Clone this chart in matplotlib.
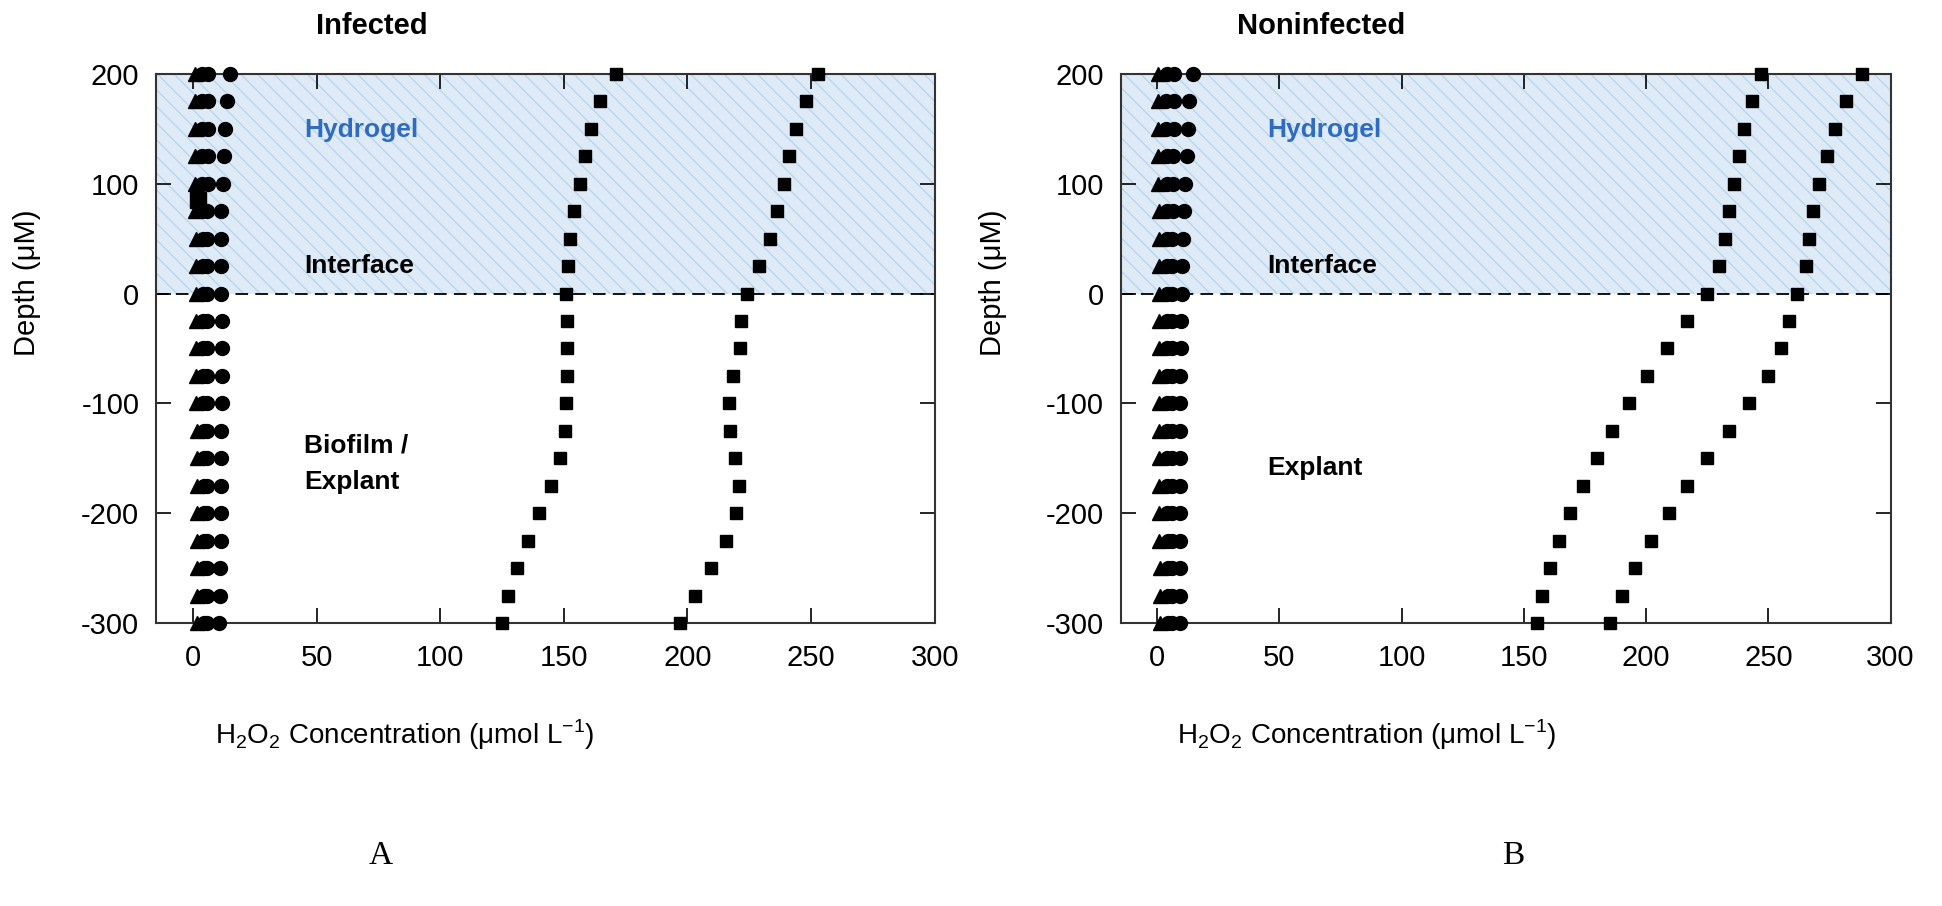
import matplotlib
matplotlib.use("Agg")
import matplotlib.pyplot as plt

plt.rcParams.update({"font.family": ["Liberation Sans", "DejaVu Sans"],
                     "mathtext.fontset": "custom",
                     "mathtext.rm": "Liberation Sans",
                     "axes.unicode_minus": False,
                     "hatch.linewidth": 0.9,
                     "hatch.color": "#b3d4f0"})

depth = [200, 175, 150, 125, 100, 75, 50, 25, 0, -25, -50, -75, -100,
         -125, -150, -175, -200, -225, -250, -275, -300]

# --- Infected ---
inf_low = [170.9, 164.6, 161.1, 158.4, 156.7, 154.3, 152.4, 151.6, 150.9,
           151.2, 151.2, 151.2, 150.9, 150.5, 148.5, 144.9, 139.9, 135.4,
           131.0, 127.6, 124.9]
inf_high = [252.7, 248.0, 244.0, 240.9, 238.9, 236.2, 233.3, 229.1, 223.9,
            221.7, 221.2, 218.5, 216.8, 217.4, 219.4, 220.9, 219.6, 215.4,
            209.5, 203.0, 197.1]
inf_tri = [0.8, 0.8, 0.9, 0.9, 1.0, 1.0, 1.1, 1.1, 1.2, 1.3, 1.3, 1.4, 1.4,
           1.5, 1.5, 1.6, 1.6, 1.6, 1.7, 1.7, 1.8]
inf_c1 = [3.5, 3.6, 3.6, 3.7, 3.8, 3.8, 3.9, 4.0, 4.0, 4.1, 4.1, 4.2, 4.2,
          4.3, 4.3, 4.3, 4.4, 4.4, 4.4, 4.5, 4.5]
inf_c2 = [6.2, 6.0, 6.0, 5.9, 5.9, 5.8, 5.8, 5.8, 5.8, 5.8, 5.8, 5.8, 5.8,
          5.8, 5.8, 5.8, 5.7, 5.7, 5.7, 5.6, 5.6]
inf_c3 = [15.0, 13.6, 13.0, 12.5, 12.0, 11.4, 11.3, 11.3, 11.5, 11.6, 11.6,
          11.6, 11.6, 11.5, 11.5, 11.4, 11.3, 11.2, 11.0, 10.8, 10.5]
inf_sq_x = [2.0]
inf_sq_y = [85]

# --- Noninfected ---
non_low = [247.2, 243.3, 240.1, 238.1, 235.8, 233.8, 232.2, 229.9, 224.8,
           216.9, 208.6, 200.4, 193.2, 186.2, 179.9, 174.0, 168.9, 164.5,
           160.7, 157.6, 155.4]
non_high = [288.5, 281.8, 277.3, 273.9, 270.6, 268.2, 266.8, 265.4, 261.8,
            258.6, 255.2, 249.7, 242.0, 233.8, 225.1, 216.9, 209.2, 202.1,
            195.6, 190.1, 185.3]
non_tri = [0.5, 0.2, 0.2, 0.4, 0.5, 0.6, 0.6, 0.6, 0.6, 0.7, 0.7, 0.7, 0.8,
           0.8, 0.8, 0.9, 0.9, 0.9, 1.0, 1.0, 1.0]
non_c1 = [4.0, 3.8, 3.8, 3.9, 4.0, 4.0, 4.0, 4.0, 4.0, 4.1, 4.1, 4.1, 4.1,
          4.2, 4.2, 4.2, 4.2, 4.3, 4.3, 4.3, 4.3]
non_c2 = [7.0, 6.8, 6.8, 6.6, 6.4, 6.3, 6.2, 6.1, 6.1, 6.0, 6.0, 6.0, 6.0,
          6.0, 6.0, 6.0, 6.0, 6.0, 6.0, 6.0, 6.0]
non_c3 = [14.5, 13.2, 12.6, 12.0, 11.4, 11.0, 10.6, 10.3, 10.0, 9.8, 9.6,
          9.5, 9.5, 9.5, 9.4, 9.3, 9.2, 9.2, 9.2, 9.2, 9.2]

xticks = [0, 50, 100, 150, 200, 250, 300]
yticks = [-300, -200, -100, 0, 100, 200]

fig = plt.figure(figsize=(19.42, 9.06), dpi=100)
ax1 = fig.add_axes([0.0803, 0.3124, 0.401, 0.606])
ax2 = fig.add_axes([0.577, 0.3124, 0.3965, 0.606])


def panel(ax, title, tx, hi, lo, tri, c1, c2, c3, zone_labels):
    ax.axhspan(0, 200, facecolor="#deebf7", edgecolor="#b3d4f0",
               hatch="\\\\", lw=0, zorder=0)
    ax.axhline(0, color="black", ls=(0, (7, 4)), lw=1.3, zorder=1)
    kw = dict(ls="none", color="black", clip_on=False, zorder=3)
    ax.plot(tri, depth, marker="^", ms=10, **kw)
    ax.plot(c1, depth, marker="o", ms=10, **kw)
    ax.plot(c2, depth, marker="o", ms=10, **kw)
    ax.plot(c3, depth, marker="o", ms=10, **kw)
    ax.plot(lo, depth, marker="s", ms=8.5, **kw)
    ax.plot(hi, depth, marker="s", ms=8.5, **kw)

    ax.set_xlim(-15, 300)
    ax.set_ylim(-300, 200)
    ax.set_xticks(xticks)
    ax.set_yticks(yticks)
    ax.tick_params(direction="in", length=11, width=1.2, labelsize=21,
                   top=True, right=True)
    ax.tick_params(axis="x", pad=15)
    ax.tick_params(axis="y", pad=12)
    for s in ax.spines.values():
        s.set_color("#333333")
        s.set_linewidth(1.5)

    ax.set_xlabel("H$_2$O$_2$ Concentration (μmol L$^{-1}$)", fontsize=20)
    ax.xaxis.set_label_coords(0.32, -0.172)
    ax.set_ylabel("Depth (μM)", fontsize=21)
    ax.yaxis.set_label_coords(-0.148, 0.62)
    ax.text(tx, 1.088, title, transform=ax.transAxes, ha="center",
            va="center", fontsize=21, fontweight="bold")

    for txt, y, col in zone_labels:
        ax.text(45, y, txt, fontsize=19, fontweight="bold", color=col,
                ha="left", va="center", linespacing=1.65)


panel(ax1, "Infected", 0.277, inf_high, inf_low, inf_tri, inf_c1, inf_c2,
      inf_c3, [("Hydrogel", 149, "#2f6cc0"), ("Interface", 25, "black"),
               ("Biofilm /\nExplant", -155, "black")])
ax1.plot(inf_sq_x, inf_sq_y, ls="none", marker="s", ms=11, color="black",
         zorder=3)
panel(ax2, "Noninfected", 0.261, non_high, non_low, non_tri, non_c1, non_c2,
      non_c3, [("Hydrogel", 149, "#2f6cc0"), ("Interface", 25, "black"),
               ("Explant", -159, "black")])

fig.text(0.196, 0.056, "A", family="Liberation Serif", fontsize=24,
         ha="center", va="center")
fig.text(0.779, 0.056, "B", family="Liberation Serif", fontsize=24,
         ha="center", va="center")

fig.savefig("out.png", dpi=100, facecolor="white")
